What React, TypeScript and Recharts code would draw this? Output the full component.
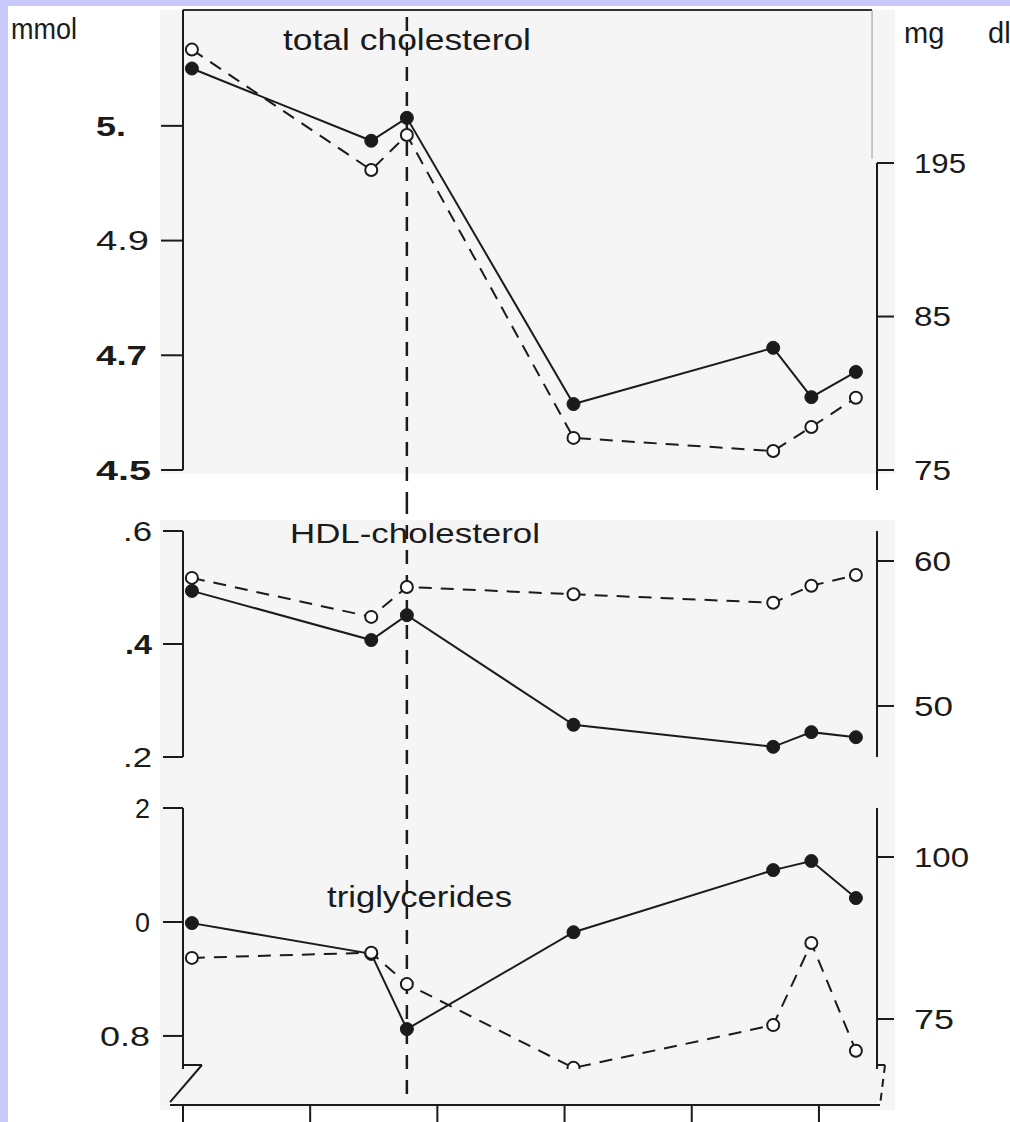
import React from "react"
import { LineChart, Line, XAxis, YAxis, ReferenceLine } from "recharts"

// visit times (x axis units, one tick per unit) and the measured means
const visitX = [0.07, 1.48, 1.76, 3.07, 4.64, 4.94, 5.29]
const xTicks = [0, 1, 2, 3, 4, 5]
const dividerX = 1.76

const totalCholFilled = [5.2, 5.074, 5.114, 4.615, 4.713, 4.627, 4.671]
const totalCholOpen = [5.233, 5.023, 5.084, 4.556, 4.533, 4.575, 4.626]
const hdlFilled = [1.494, 1.407, 1.451, 1.257, 1.218, 1.244, 1.235]
const hdlOpen = [1.517, 1.448, 1.501, 1.488, 1.473, 1.503, 1.522]
const tgFilled = [0.998, 0.944, 0.812, 0.982, 1.091, 1.107, 1.042]
const tgOpen = [0.937, 0.946, 0.891, 0.744, 0.819, 0.963, 0.774]

// tick values and the labels printed next to them
const totalTicks = [4.5, 4.7, 4.9, 5.1]
const totalLabels = ["4.5", "4.7", "4.9", "5."]
const totalMgTicks = [175, 185, 195]
const totalMgLabels = ["75", "85", "195"]
const hdlTicks = [1.2, 1.4, 1.6]
const hdlLabels = [".2", ".4", ".6"]
const hdlMgTicks = [50, 60]
const hdlMgLabels = ["50", "60"]
const tgTicks = [0.8, 1.0, 1.2]
const tgLabels = ["0.8", "0", "2"]
const tgMgTicks = [75, 100]
const tgMgLabels = ["75", "100"]

const XMAX = 5.456
const INK = "#1b1b1b"
const FONT = "'Liberation Sans', Arial, sans-serif"

const rows = (a: number[], b: number[]) => visitX.map((x, i) => ({ x, filled: a[i], open: b[i] }))

// the scanned print is a bit wider than Arial, so each label gets a stretched length
const makeTick =
  (
    ticks: number[],
    labels: string[],
    widths: number[],
    x: number,
    anchor: "start" | "end",
    bold: number[] = [],
    size = 27
  ) =>
  (props: any) => {
    const { y, payload } = props
    const i = ticks.indexOf(payload.value)
    return (
      <text
        x={x}
        y={y}
        dy={size * 0.36}
        textAnchor={anchor}
        fontSize={size}
        fontWeight={bold.includes(payload.value) ? 700 : 400}
        textLength={widths[i]}
        lengthAdjust="spacingAndGlyphs"
        fill={INK}
        fontFamily={FONT}
      >
        {labels[i]}
      </text>
    )
  }

const filledDot = { r: 6.5, fill: INK, stroke: INK, strokeWidth: 1 }
const openDot = { r: 6, fill: "#fff", stroke: INK, strokeWidth: 2, strokeDasharray: "0" }

function Panel({
  top,
  height,
  plotTop,
  plotBottom,
  data,
  left,
  right,
  divider,
  children,
}: {
  top: number
  height: number
  plotTop: number
  plotBottom: number
  data: any[]
  left: { domain: number[]; ticks: number[]; tick: any; tickSize: number }
  right: { domain: number[]; ticks: number[]; tick: any; axisLine?: boolean }
  divider: [number, number]
  children?: React.ReactNode
}) {
  return (
    <div style={{ position: "absolute", left: 0, top }}>
      <LineChart
        width={1010}
        height={height}
        data={data}
        margin={{ top: plotTop - top, bottom: top + height - plotBottom, left: 123, right: 73 }}
      >
        <XAxis type="number" dataKey="x" domain={[0, XMAX]} hide allowDataOverflow />
        <YAxis
          yAxisId="mmol"
          width={60}
          domain={left.domain}
          ticks={left.ticks}
          allowDataOverflow
          tick={left.tick}
          tickSize={left.tickSize}
          axisLine={{ stroke: INK, strokeWidth: 2 }}
          tickLine={{ stroke: INK, strokeWidth: 2 }}
        />
        <YAxis
          yAxisId="mg"
          orientation="right"
          width={60}
          domain={right.domain}
          ticks={right.ticks}
          allowDataOverflow
          tick={right.tick}
          tickSize={17}
          axisLine={right.axisLine === false ? false : { stroke: INK, strokeWidth: 2 }}
          tickLine={{ stroke: INK, strokeWidth: 2 }}
        />
        {/* dashed divider, continued through the gaps between panels */}
        <ReferenceLine
          yAxisId="mmol"
          segment={[
            { x: dividerX, y: divider[0] },
            { x: dividerX, y: divider[1] },
          ]}
          stroke={INK}
          strokeWidth={2.5}
          strokeDasharray="14 11"
          ifOverflow="visible"
        />
        {children}
        <Line
          yAxisId="mmol"
          type="linear"
          dataKey="filled"
          stroke={INK}
          strokeWidth={2}
          dot={filledDot}
          isAnimationActive={false}
        />
        <Line
          yAxisId="mmol"
          type="linear"
          dataKey="open"
          stroke={INK}
          strokeWidth={2}
          strokeDasharray="13 9"
          dot={openDot}
          isAnimationActive={false}
        />
      </LineChart>
    </div>
  )
}

export default function App() {
  const titleStyle = { fontFamily: FONT, fill: INK } as const
  return (
    <div style={{ position: "absolute", left: 0, top: 0, width: 1010, height: 1122, background: "#c9c9fb", fontFamily: FONT }}>
      <div style={{ position: "absolute", left: 8, top: 6, width: 1002, height: 1116, background: "#fff" }} />
      <div style={{ position: "absolute", left: 160, top: 10, width: 735, height: 464, background: "#f5f5f5" }} />
      <div style={{ position: "absolute", left: 160, top: 520, width: 735, height: 590, background: "#f5f5f5" }} />

      {/* shared time axis under the three panels */}
      <div style={{ position: "absolute", left: 0, top: 0 }}>
        <LineChart width={1010} height={1122} data={rows(totalCholFilled, totalCholOpen)} margin={{ top: 10, bottom: 0, left: 170, right: 130 }}>
          <XAxis
            type="number"
            dataKey="x"
            domain={[-0.102, 5.48]}
            allowDataOverflow
            ticks={xTicks}
            height={17}
            tickSize={17}
            tickFormatter={() => ""}
            axisLine={{ stroke: INK, strokeWidth: 2 }}
            tickLine={{ stroke: INK, strokeWidth: 2 }}
          />
          <YAxis hide domain={[0, 1]} />
        </LineChart>
      </div>

      <Panel
        top={0}
        height={500}
        plotTop={10}
        plotBottom={470}
        data={rows(totalCholFilled, totalCholOpen)}
        divider={[5.29, 4.4477]}
        left={{
          domain: [4.5, 5.302],
          ticks: totalTicks,
          tick: makeTick(totalTicks, totalLabels, [55, 51, 53, 30], 96, "start", [4.5, 4.7, 5.1]),
          tickSize: 22,
        }}
        right={{
          domain: [175, 204.97],
          ticks: totalMgTicks,
          tick: makeTick(totalMgTicks, totalMgLabels, [37, 37, 52], 914, "start"),
          axisLine: false,
        }}
      >
        <ReferenceLine
          yAxisId="mmol"
          segment={[{ x: 0, y: 5.302 }, { x: 5.417, y: 5.302 }]}
          stroke="#333"
          strokeWidth={2}
          ifOverflow="visible"
        />
        <ReferenceLine
          yAxisId="mmol"
          segment={[{ x: 5.417, y: 5.302 }, { x: 5.417, y: 5.043 }]}
          stroke="#999"
          strokeWidth={1}
          ifOverflow="visible"
        />
        <ReferenceLine
          yAxisId="mg"
          segment={[{ x: XMAX, y: 195 }, { x: XMAX, y: 173.7 }]}
          stroke={INK}
          strokeWidth={2}
          ifOverflow="visible"
        />
        <text x={11} y={39} fontSize={29} textLength={66} lengthAdjust="spacingAndGlyphs" style={titleStyle}>
          mmol
        </text>
        <text x={904} y={43} fontSize={29} style={titleStyle}>
          mg<tspan x={980}> dl</tspan>
        </text>
        <text x={283} y={50} fontSize={30} textLength={248} lengthAdjust="spacingAndGlyphs" style={titleStyle}>
          total cholesterol
        </text>
      </Panel>

      <Panel
        top={500}
        height={280}
        plotTop={531}
        plotBottom={757}
        data={rows(hdlFilled, hdlOpen)}
        divider={[1.6549, 1.1593]}
        left={{
          domain: [1.2, 1.6],
          ticks: hdlTicks,
          tick: makeTick(hdlTicks, hdlLabels, [29, 27, 29], 152, "end", [1.4]),
          tickSize: 20,
        }}
        right={{
          domain: [46.48, 62.07],
          ticks: hdlMgTicks,
          tick: makeTick(hdlMgTicks, hdlMgLabels, [39, 37], 914, "start"),
        }}
      >
        <text x={290} y={43} fontSize={28} textLength={250} lengthAdjust="spacingAndGlyphs" style={titleStyle}>
          HDL-cholesterol
        </text>
      </Panel>

      <Panel
        top={780}
        height={342}
        plotTop={808}
        plotBottom={1069}
        data={rows(tgFilled, tgOpen)}
        divider={[1.2491, 0.6877]}
        left={{
          domain: [0.742, 1.2],
          ticks: tgTicks,
          tick: makeTick(tgTicks, tgLabels, [50, 15, 15], 150, "end"),
          tickSize: 20,
        }}
        right={{
          domain: [67.28, 107.56],
          ticks: tgMgTicks,
          tick: makeTick(tgMgTicks, tgMgLabels, [40, 55], 914, "start"),
        }}
      >
        {/* axis break marks down to the time axis */}
        <ReferenceLine yAxisId="mmol" segment={[{ x: 0, y: 0.749 }, { x: 0.149, y: 0.749 }]} stroke={INK} strokeWidth={2} ifOverflow="visible" />
        <ReferenceLine yAxisId="mmol" segment={[{ x: 0.149, y: 0.749 }, { x: -0.102, y: 0.684 }]} stroke={INK} strokeWidth={2} ifOverflow="visible" />
        <ReferenceLine yAxisId="mmol" segment={[{ x: XMAX, y: 0.749 }, { x: 5.519, y: 0.749 }]} stroke={INK} strokeWidth={2} ifOverflow="visible" />
        <ReferenceLine
          yAxisId="mmol"
          segment={[{ x: 5.519, y: 0.749 }, { x: 5.48, y: 0.679 }]}
          stroke={INK}
          strokeWidth={2}
          strokeDasharray="8 6"
          ifOverflow="visible"
        />
        <text x={327} y={127} fontSize={29} textLength={185} lengthAdjust="spacingAndGlyphs" style={titleStyle}>
          triglycerides
        </text>
      </Panel>
    </div>
  )
}
